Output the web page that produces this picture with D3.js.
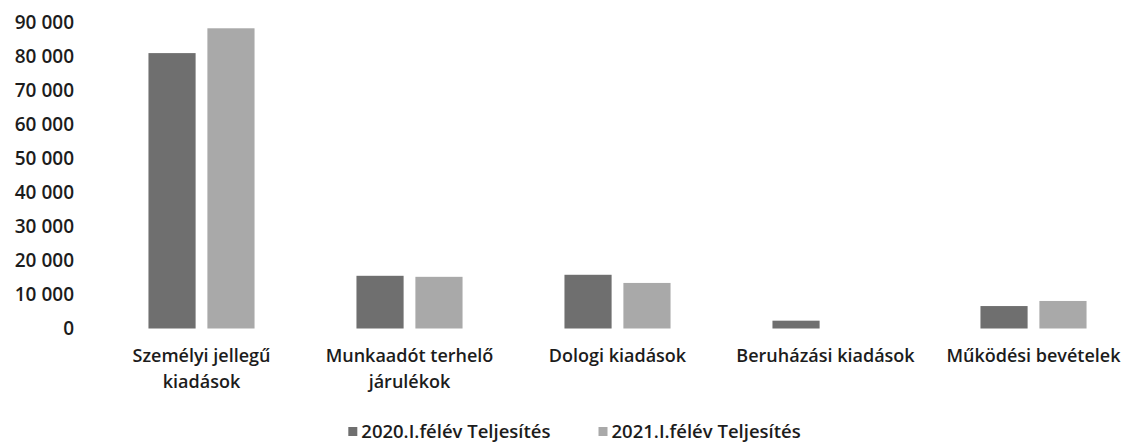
<!DOCTYPE html>
<html>
<head>
<meta charset="utf-8">
<script src="https://cdn.jsdelivr.net/npm/d3@7"></script>
<style>
  html, body { margin: 0; padding: 0; background: #fff; }
  svg text { font-family: "Open Sans", sans-serif; font-weight: 600; fill: #1c1c1c; }
</style>
</head>
<body>
<div id="chart"></div>
<script>
// chart data
const categories = ["Személyi jellegű kiadások", "Munkaadót terhelő járulékok", "Dologi kiadások", "Beruházási kiadások", "Működési bevételek"];
const categoryLines = [["Személyi jellegű", "kiadások"], ["Munkaadót terhelő", "járulékok"], ["Dologi kiadások"], ["Beruházási kiadások"], ["Működési bevételek"]];
const seriesNames = ["2020.I.félév Teljesítés", "2021.I.félév Teljesítés"];
const values2020 = [81000, 15500, 15800, 2300, 6600];
const values2021 = [88300, 15200, 13400, 0, 8100];
const yTicks = [0, 10000, 20000, 30000, 40000, 50000, 60000, 70000, 80000, 90000];

const width = 1127, height = 443;
const colors = ["#6f6f6f", "#a9a9a9"];

const svg = d3.select('#chart').append('svg')
    .attr('width', width)
    .attr('height', height);

const rows = categories.map((c, i) => ({ cat: c, lines: categoryLines[i], vals: [values2020[i], values2021[i]] }));

const x0 = d3.scaleBand()
    .domain(categories)
    .range([97.5, 1137.5])
    .paddingInner(0.49)
    .paddingOuter(0.245);

const x1 = d3.scaleBand()
    .domain(seriesNames)
    .range([0, x0.bandwidth()])
    .paddingInner(0.2);

const y = d3.scaleLinear()
    .domain([0, 90000])
    .range([328.5, 22.5]);

const huFormat = d3.formatLocale({ decimal: ",", thousands: "\u00a0", grouping: [3], currency: ["", ""] }).format(",");

// y axis (labels only, no line)
const yAxis = svg.append('g')
    .attr('transform', 'translate(84,0)')
    .call(d3.axisLeft(y).tickValues(yTicks).tickSize(0).tickPadding(10).tickFormat(huFormat));
yAxis.select('.domain').remove();
yAxis.selectAll('text')
    .style('font-size', '19px')
    .attr('fill', '#1c1c1c');

// bars
const groups = svg.selectAll('.cat')
    .data(rows)
    .enter().append('g')
    .attr('class', 'cat')
    .attr('transform', d => `translate(${x0(d.cat)},0)`);

groups.selectAll('rect')
    .data(d => d.vals.map((v, i) => ({ key: seriesNames[i], v: v, i: i })))
    .enter().append('rect')
    .attr('x', d => x1(d.key))
    .attr('y', d => y(d.v))
    .attr('width', x1.bandwidth())
    .attr('height', d => y(0) - y(d.v))
    .attr('fill', d => colors[d.i]);

// category labels
const labels = svg.selectAll('.xlabel')
    .data(rows)
    .enter().append('text')
    .attr('class', 'xlabel')
    .attr('text-anchor', 'middle')
    .style('font-size', '18px')
    .attr('x', d => x0(d.cat) + x0.bandwidth() / 2)
    .attr('y', 362);
labels.selectAll('tspan')
    .data(d => d.lines.map(l => ({ l: l, x: x0(d.cat) + x0.bandwidth() / 2 })))
    .enter().append('tspan')
    .attr('x', d => d.x)
    .attr('dy', (d, i) => i === 0 ? 0 : 26)
    .text(d => d.l);

// legend
const legend = svg.append('g');
let lx = 0;
seriesNames.forEach((name, i) => {
    const item = legend.append('g').attr('transform', `translate(${lx},0)`);
    item.append('rect')
        .attr('x', 0).attr('y', -5)
        .attr('width', 9).attr('height', 9)
        .attr('fill', colors[i]);
    const t = item.append('text')
        .attr('x', 13)
        .attr('y', 6)
        .style('font-size', '18.5px')
        .text(name);
    lx += 13 + t.node().getComputedTextLength() + 48;
});
const legendWidth = lx - 48;
legend.attr('transform', `translate(${574.5 - legendWidth / 2},432)`);
</script>
</body>
</html>
